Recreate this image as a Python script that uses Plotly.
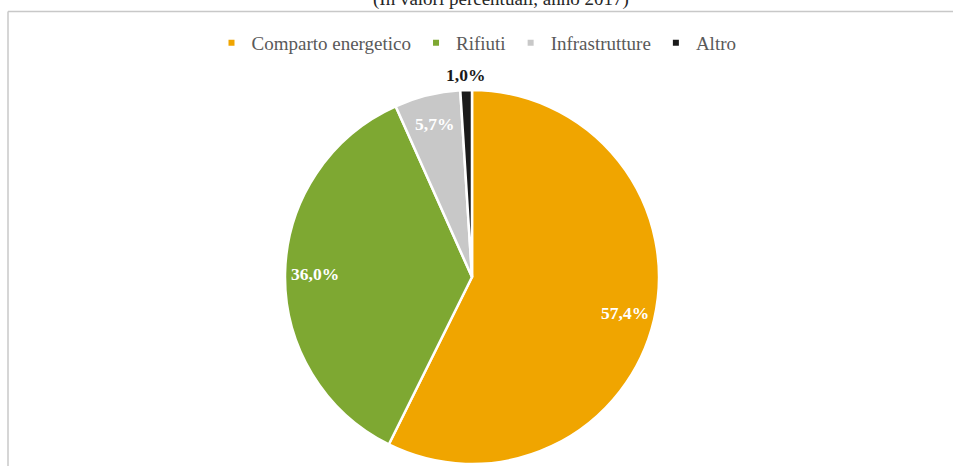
import math
import plotly.graph_objects as go

categories = ["Comparto energetico", "Rifiuti", "Infrastrutture", "Altro"]
values = [57.4, 36.0, 5.7, 1.0]
colors = ["#F0A500", "#7EA832", "#C8C8C8", "#1A1A1A"]
label_positions = ["inside", "inside", "inside", "outside"]
label_colors = ["white", "white", "white", "#1A1A1A"]
title_text = "(In valori percentuali, anno 2017)"

labels = [f"{v:.1f}".replace(".", ",") + "%" for v in values]

W, H = 953, 466
cx, cy, r = 472, 277, 187
INSIDE_F, OUTSIDE_F = 0.84, 1.08

fig = go.Figure()
fig.add_trace(go.Pie(
    labels=categories, values=values, textinfo="none",
    sort=False, direction="clockwise", rotation=0,
    marker=dict(colors=colors, line=dict(color="white", width=2.5)),
    domain=dict(x=[(cx - r) / W, (cx + r) / W], y=[1 - (cy + r) / H, 1 - (cy - r) / H]),
    showlegend=False, hoverinfo="label+percent",
))
for name, col in zip(categories, colors):
    fig.add_trace(go.Scatter(
        x=[None], y=[None], mode="markers", name=name,
        marker=dict(symbol="square", size=6, color=col),
    ))

# data labels placed at the angular middle of each slice
annotations = []
total = sum(values)
cum = 0.0
for lab, v, pos, col in zip(labels, values, label_positions, label_colors):
    mid = (cum + v / 2) / total * 2 * math.pi
    cum += v
    f = INSIDE_F if pos == "inside" else OUTSIDE_F
    px = cx + math.sin(mid) * r * f
    py = cy - math.cos(mid) * r * f
    annotations.append(dict(
        text=lab, x=px / W, y=1 - py / H, xref="paper", yref="paper",
        xanchor="center", yanchor="middle", showarrow=False,
        font=dict(family="Liberation Serif", size=17.5, color=col, weight="bold")))

annotations.append(dict(text=title_text, x=501 / W, y=1 + 1 / H, xref="paper", yref="paper",
                        xanchor="center", yanchor="middle", showarrow=False,
                        font=dict(family="Liberation Serif", size=19, color="#262626")))

fig.update_layout(
    width=W, height=H,
    margin=dict(l=0, r=0, t=0, b=0),
    paper_bgcolor="white", plot_bgcolor="white",
    xaxis=dict(visible=False), yaxis=dict(visible=False),
    legend=dict(orientation="h", x=0.5, xanchor="center", y=1 - 43 / H, yanchor="middle",
                font=dict(family="Liberation Serif", size=19, color="#595959"),
                itemwidth=30, tracegroupgap=0, bgcolor="rgba(0,0,0,0)"),
    annotations=annotations,
    shapes=[
        dict(type="line", xref="paper", yref="paper", x0=8 / W, x1=1.01, y0=1 - 11.5 / H, y1=1 - 11.5 / H,
             line=dict(color="#C8C8C8", width=1.5)),
        dict(type="line", xref="paper", yref="paper", x0=8 / W, x1=8 / W, y0=1 - 11.5 / H, y1=-0.01,
             line=dict(color="#C8C8C8", width=1.5)),
    ],
)
fig.write_html("out.html", config={"displayModeBar": False},
               post_script="document.body.style.margin='0';document.body.style.overflow='hidden';")
